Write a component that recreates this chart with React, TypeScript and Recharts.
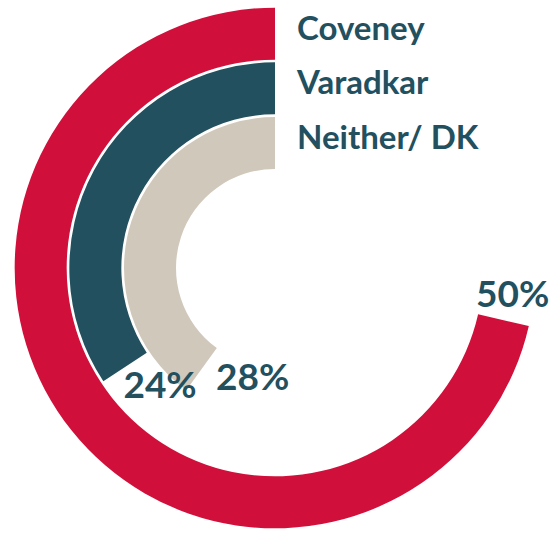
import React from 'react';
import { RadialBarChart, RadialBar, PolarAngleAxis, LabelList, Cell } from 'recharts';

// rings from the inside out
const candidates = ['Neither/ DK', 'Varadkar', 'Coveney'];
const shares = [28, 24, 50];
const angleMax = 70; // a full turn of a ring equals this share

const ringColors = ['#D0C8BB', '#22505F', '#D0103A'];
const textColor = '#22505F';
const font = 'Lato, "Open Sans", sans-serif';
const RADIAN = Math.PI / 180;

const data = candidates.map((name, i) => ({ name, value: shares[i] }));

const NameLabel = (props: any) => {
    const { viewBox, value } = props;
    if (!viewBox) return null;
    const { cx, cy, innerRadius, outerRadius } = viewBox;
    const mid = (innerRadius + outerRadius) / 2;
    return (
        <text
            x={cx + 22}
            y={cy - mid - 7}
            fill={textColor}
            fontFamily={font}
            fontSize={33}
            fontWeight={700}
            dominantBaseline="central"
        >
            {value}
        </text>
    );
};

// percentage sits just past the end of its ring
const ValueLabel = (props: any) => {
    const { viewBox, value } = props;
    if (!viewBox) return null;
    const { cx, cy, innerRadius, outerRadius, endAngle } = viewBox;
    const mid = (innerRadius + outerRadius) / 2;
    const u = mid - 180;
    const r = mid - 16.5 + 0.182 * u + 0.00383 * u * u;
    const angle = endAngle + 380000 / (mid * mid);
    const x = cx + r * Math.cos(angle * RADIAN);
    const y = cy - r * Math.sin(angle * RADIAN);
    return (
        <text
            x={x}
            y={y}
            fill={textColor}
            fontFamily={font}
            fontSize={37}
            fontWeight={700}
            textAnchor="middle"
            dominantBaseline="central"
        >
            {value}%
        </text>
    );
};

const App: React.FC = () => {
    return (
        <div style={{ position: 'absolute', left: 0, top: 0, width: 554, height: 535, background: '#fff' }}>
            <RadialBarChart
                width={554}
                height={535}
                data={data}
                cx={275}
                cy={268}
                innerRadius={98}
                outerRadius={262}
                startAngle={90}
                endAngle={450}
                barSize={52}
                margin={{ top: 0, right: 0, bottom: 0, left: 0 }}
            >
                <PolarAngleAxis type="number" domain={[0, angleMax]} tick={false} axisLine={false} />
                <RadialBar dataKey="value" isAnimationActive={false}>
                    {data.map((d, i) => (
                        <Cell key={d.name} fill={ringColors[i]} />
                    ))}
                    <LabelList dataKey="name" content={NameLabel} />
                    <LabelList dataKey="value" content={ValueLabel} />
                </RadialBar>
            </RadialBarChart>
        </div>
    );
};

export default App;
